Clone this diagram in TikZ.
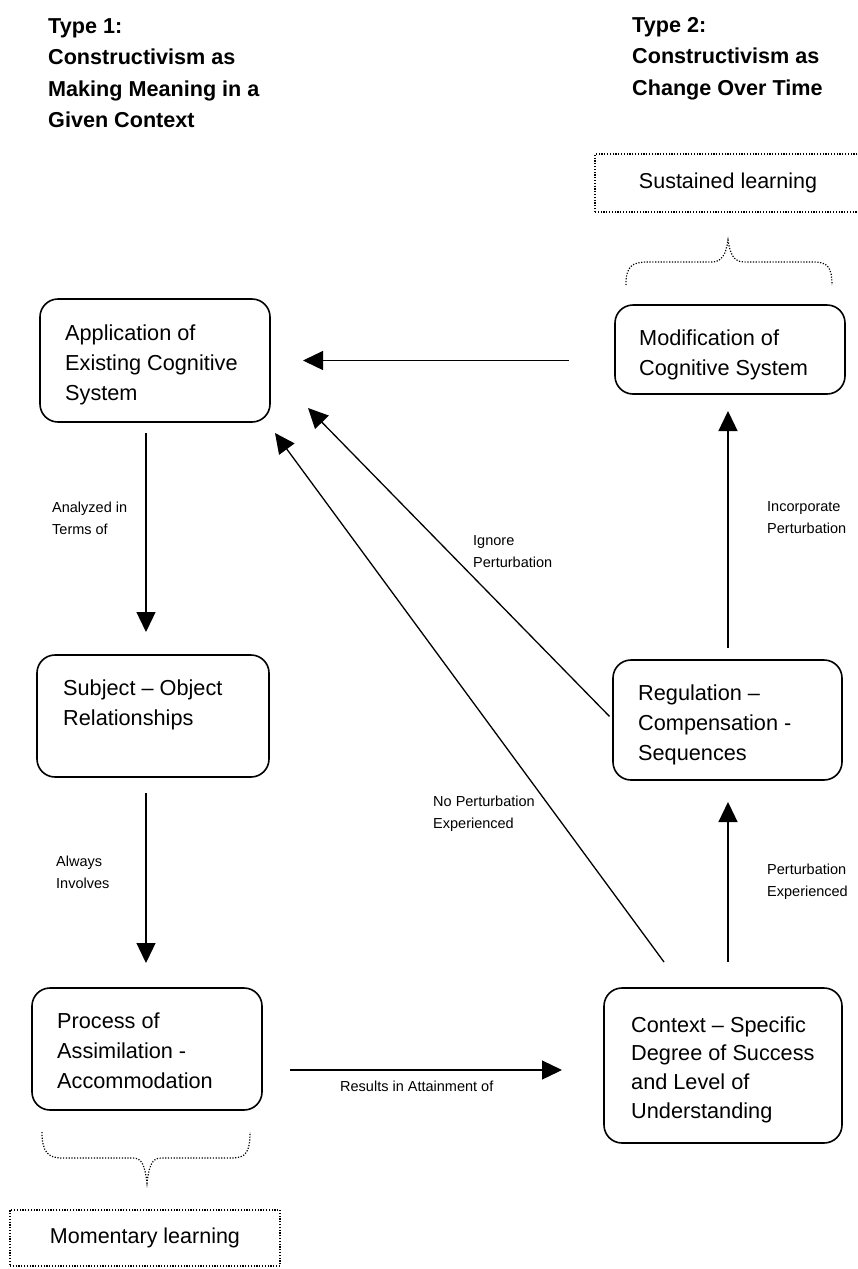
\documentclass[tikz,border=0pt]{standalone}
\usepackage{fontspec}
\setmainfont{Liberation Sans}
\usetikzlibrary{arrows.meta}
% left-aligned stack of lines whose baseline is the first line
\newcommand\stack[1]{\begin{tabular}[t]{@{}l@{}}#1\end{tabular}}
\begin{document}
\begin{tikzpicture}[x=1pt,y=-1pt,
  box/.style={draw, line width=1.6pt, rounded corners=18pt, anchor=north west,
    inner sep=0pt, outer sep=0pt},
  boxtext/.style={anchor=base west, inner sep=0pt, font=\fontsize{21.7}{30}\selectfont},
  title/.style={anchor=base west, inner sep=0pt, font=\fontsize{21.6}{31.5}\selectfont\bfseries},
  lbl/.style={anchor=base west, inner sep=0pt, font=\fontsize{14.5}{22}\selectfont},
  arr/.style={line width=1.3pt, -{Triangle[length=20pt,width=19pt]}},
  dots/.style={line width=1.2pt, dash pattern=on 1.2pt off 1.6pt},
  learn/.style={draw, dots, anchor=north west, inner sep=0pt, outer sep=0pt,
    font=\fontsize{21.5}{26}\selectfont},
]
\useasboundingbox (0,0) rectangle (858,1269);
\clip (0,0) rectangle (858,1269);

% headings
\node[title] (t1) at (48,33) {\stack{Type 1:\\Constructivism as\\Making Meaning in a\\Given Context}};
\node[title] (t2) at (632,32) {\stack{Type 2:\\Constructivism as\\Change Over Time}};

% process boxes
\node[box, minimum width=230pt, minimum height=123pt] (app) at (40,299) {};
\node[box, minimum width=230pt, minimum height=89pt] (mod) at (615,305) {};
\node[box, minimum width=232pt, minimum height=122pt] (subj) at (37,655) {};
\node[box, minimum width=230pt, minimum height=122pt] (proc) at (32,988) {};
\node[box, minimum width=229pt, minimum height=120pt] (reg) at (613,660) {};
\node[box, minimum width=238pt, minimum height=155pt] (ctx) at (604,988) {};

\node[boxtext] (appT) at (65,340) {\stack{Application of\\Existing Cognitive\\System}};
\node[boxtext] (modT) at (639,345) {\stack{Modification of\\Cognitive System}};
\node[boxtext] (subjT) at (63,695) {\stack{Subject – Object\\Relationships}};
\node[boxtext] (procT) at (57,1028) {\stack{Process of\\Assimilation -\\Accommodation}};
\node[boxtext] (regT) at (638,700) {\stack{Regulation –\\Compensation -\\Sequences}};
\node[boxtext, font=\fontsize{21.7}{28.7}\selectfont] (ctxT) at (631,1032)
  {\stack{Context – Specific\\Degree of Success\\and Level of\\Understanding}};

% learning outcomes
\node[learn, minimum width=266pt, minimum height=58pt] (sus) at (595,154) {Sustained learning};
\node[learn, minimum width=270pt, minimum height=56pt] (mom) at (10,1210) {Momentary learning};

\draw[dots] (626,285) .. controls (626,266) and (632,262) .. (648,262) -- (712,262)
  .. controls (722,262) and (726,254) .. (728,240)
  .. controls (730,254) and (734,262) .. (744,262) -- (814,262)
  .. controls (828,262) and (832,268) .. (832,285);
\draw[dots] (42,1132) .. controls (42,1152) and (48,1158) .. (62,1158) -- (133,1158)
  .. controls (142,1158) and (145,1166) .. (147,1183)
  .. controls (149,1166) and (152,1158) .. (161,1158) -- (232,1158)
  .. controls (246,1158) and (250,1152) .. (250,1132);

% connector guides
\coordinate (colL) at (146,0);
\coordinate (colR) at (728,0);
\coordinate (rowB) at (0,1070);
\coordinate (ignTip) at (308,408);
\coordinate (npTail) at (664,962);
\coordinate (npTip) at (275,433);

% connectors
\draw[arr, shorten <=46pt, shorten >=33pt] (mod.west |- app.east) -- (app.east);
\draw[arr, shorten <=11pt, shorten >=23pt] (colL |- app.south) -- (colL |- subj.north);
\draw[arr, shorten <=16pt, shorten >=25pt] (colL |- subj.south) -- (colL |- proc.north);
\draw[arr, shorten <=28pt, shorten >=42pt] (rowB -| proc.east) -- (rowB -| ctx.west);
\draw[arr, shorten <=26pt, shorten >=22pt] (colR |- ctx.north) -- (colR |- reg.south);
\draw[arr, shorten <=12pt, shorten >=17pt] (colR |- reg.north) -- (colR |- mod.south);
\draw[arr, shorten <=5pt] (reg.west) -- (ignTip);
\draw[arr] (npTail) -- (npTip);

% connector labels
\node[lbl] (l1) at (52,512) {\stack{Analyzed in\\Terms of}};
\node[lbl] (l2) at (56,866) {\stack{Always\\Involves}};
\node[lbl] (l3) at (340,1091) {Results in Attainment of};
\node[lbl] (l4) at (473,545) {\stack{Ignore\\Perturbation}};
\node[lbl] (l5) at (433,806) {\stack{No Perturbation\\Experienced}};
\node[lbl] (l6) at (767,511) {\stack{Incorporate\\Perturbation}};
\node[lbl] (l7) at (767,874) {\stack{Perturbation\\Experienced}};
\end{tikzpicture}
\end{document}
